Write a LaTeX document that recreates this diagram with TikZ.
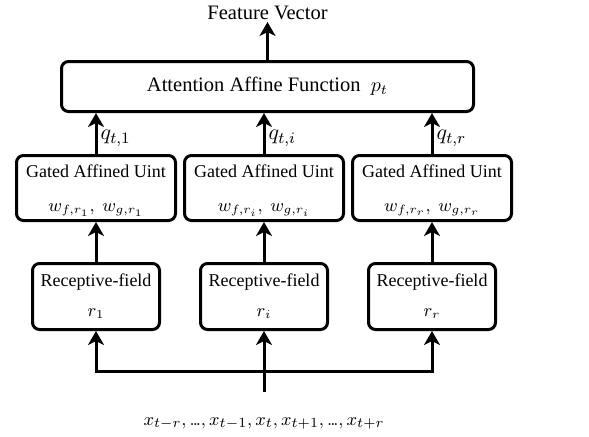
\documentclass[tikz,border=0pt]{standalone}
\usepackage{fontspec}
\setmainfont{Liberation Serif}
\usetikzlibrary{arrows.meta,positioning,chains}
\newcommand{\tdots}{\mathord{.\mkern-2mu.\mkern-2mu.}}

\begin{document}
\begin{tikzpicture}[
    rbox/.style={draw,line width=1.5pt,rounded corners=3.5pt,align=center,inner sep=1pt},
    gbox/.style={rbox,minimum width=79.5pt,minimum height=32.5pt,font=\fontsize{9}{17}\selectfont},
    fbox/.style={rbox,minimum width=63.5pt,minimum height=33pt,font=\fontsize{9}{15}\selectfont},
    sarr/.style={-{Stealth[length=7pt,width=8pt,inset=2pt]},line width=1.5pt},
    node distance=20pt
    ]
    \useasboundingbox (0,0) rectangle (294.5pt,-218pt);
    \node[rbox,minimum width=206pt,minimum height=25pt,font=\fontsize{10.25}{12}\selectfont] (att) at (133.75pt,-43.25pt) {Attention Affine Function\enspace $p_t$};
    \node[above=19pt of att,font=\fontsize{10.25}{12}\selectfont,inner sep=1pt] (fv) {Feature Vector};
    \draw[sarr] (att) -- (fv);
    \begin{scope}[shift={(48pt,-94pt)},start chain=going right,node distance=3pt,nodes={gbox,on chain}]
        \node (gau1) {\rule{0pt}{9pt}Gated Affined Uint\\$w_{f,r_1},\ w_{g,r_1}$};
        \node (gau2) {\rule{0pt}{9pt}Gated Affined Uint\\$w_{f,r_i},\ w_{g,r_i}$};
        \node (gau3) {\rule{0pt}{9pt}Gated Affined Uint\\$w_{f,r_r},\ w_{g,r_r}$};
    \end{scope}
    \foreach \k/\s in {1/1,2/i,3/r}
    {
        \node[fbox,below=20pt of gau\k] (rf\k) {Receptive-field\\$r_{\s}$};
        \draw[sarr] (rf\k) -- (gau\k);
        \draw[sarr] (gau\k.north) -- (gau\k.north |- att.south)
            node[pos=1,anchor=north west,inner sep=1pt,xshift=0.5pt,yshift=-7pt,font=\fontsize{11}{13}\selectfont] {$q_{t,\s}$};
    }
    % input sequence fans out to the three receptive fields
    \coordinate[below=20pt of rf2] (bus);
    \node[below=41pt of rf2,inner sep=2pt,font=\fontsize{9.5}{11}\selectfont] (xin) {$x_{t-r},\tdots,x_{t-1},x_t,x_{t+1},\tdots,x_{t+r}$};
    \draw[sarr] (xin.north |- 0,-196pt) -- (rf2);
    \draw[sarr] (bus) -| (rf1);
    \draw[sarr] (bus) -| (rf3);
\end{tikzpicture}
\end{document}
